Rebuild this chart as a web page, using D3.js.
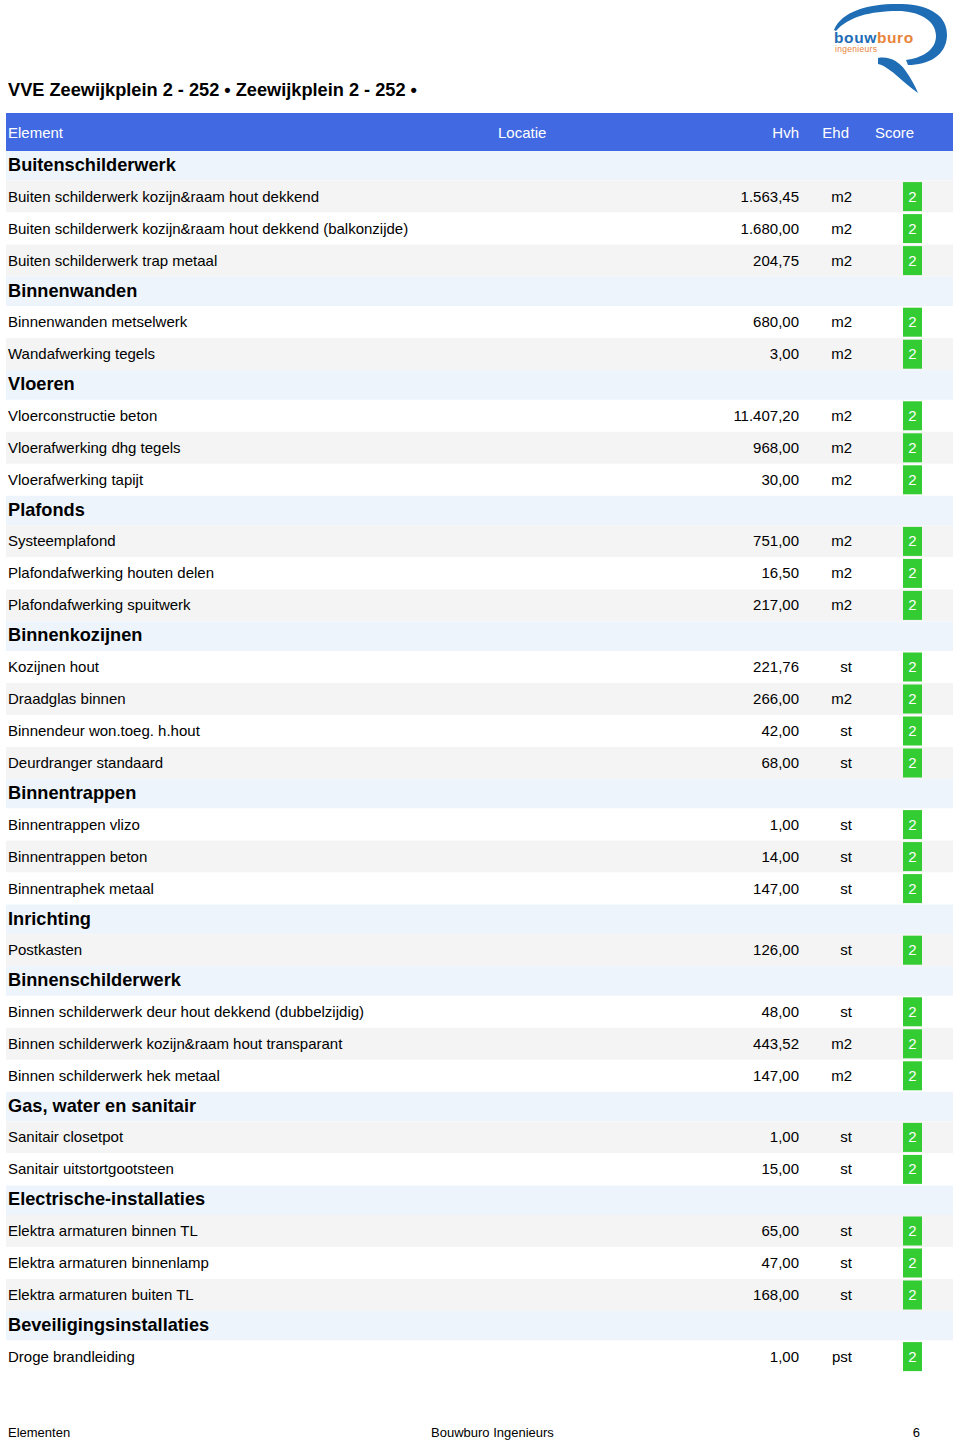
<!DOCTYPE html>
<html>
<head>
<meta charset="utf-8">
<script src="https://cdn.jsdelivr.net/npm/d3@7"></script>
<style>
  body { margin: 0; background: #fff; }
  svg { display: block; font-family: "Liberation Sans", Arial, sans-serif; }
</style>
</head>
<body>
<svg id="canvas"></svg>
<script>
let title = "VVE Zeewijkplein 2 - 252 • Zeewijkplein 2 - 252 •"
let columns = ["Element", "Locatie", "Hvh", "Ehd", "Score"]

let sections = [
  "Buitenschilderwerk", "Binnenwanden", "Vloeren", "Plafonds", "Binnenkozijnen",
  "Binnentrappen", "Inrichting", "Binnenschilderwerk", "Gas, water en sanitair",
  "Electrische-installaties", "Beveiligingsinstallaties"
]

// which section each item belongs to (index into sections)
let itemSection = [0, 0, 0, 1, 1, 2, 2, 2, 3, 3, 3, 4, 4, 4, 4, 5, 5, 5, 6, 7, 7, 7, 8, 8, 9, 9, 9, 10]

let itemNames = [
  "Buiten schilderwerk kozijn&raam hout dekkend",
  "Buiten schilderwerk kozijn&raam hout dekkend (balkonzijde)",
  "Buiten schilderwerk trap metaal",
  "Binnenwanden metselwerk",
  "Wandafwerking tegels",
  "Vloerconstructie beton",
  "Vloerafwerking dhg tegels",
  "Vloerafwerking tapijt",
  "Systeemplafond",
  "Plafondafwerking houten delen",
  "Plafondafwerking spuitwerk",
  "Kozijnen hout",
  "Draadglas binnen",
  "Binnendeur won.toeg. h.hout",
  "Deurdranger standaard",
  "Binnentrappen vlizo",
  "Binnentrappen beton",
  "Binnentraphek metaal",
  "Postkasten",
  "Binnen schilderwerk deur hout dekkend (dubbelzijdig)",
  "Binnen schilderwerk kozijn&raam hout transparant",
  "Binnen schilderwerk hek metaal",
  "Sanitair closetpot",
  "Sanitair uitstortgootsteen",
  "Elektra armaturen binnen TL",
  "Elektra armaturen binnenlamp",
  "Elektra armaturen buiten TL",
  "Droge brandleiding"
]

let itemQty = [1563.45, 1680, 204.75, 680, 3, 11407.2, 968, 30, 751, 16.5, 217, 221.76, 266, 42, 68,
  1, 14, 147, 126, 48, 443.52, 147, 1, 15, 65, 47, 168, 1]

let itemUnit = ["m2", "m2", "m2", "m2", "m2", "m2", "m2", "m2", "m2", "m2", "m2", "st", "m2", "st", "st",
  "st", "st", "st", "st", "st", "m2", "m2", "st", "st", "st", "st", "st", "pst"]

let itemScore = [2, 2, 2, 2, 2, 2, 2, 2, 2, 2, 2, 2, 2, 2, 2, 2, 2, 2, 2, 2, 2, 2, 2, 2, 2, 2, 2, 2]

let footer = ["Elementen", "Bouwburo Ingenieurs", "6"]

let width = 960
let height = 1440
let left = 6
let right = 953
let headTop = 113
let headH = 38
let sectionH = 29.6
let itemH = 32

let svg = d3.select("#canvas")
    .attr("width", width)
    .attr("height", height)

// dutch number format 1.563,45
let nl = d3.formatLocale({decimal: ",", thousands: ".", grouping: [3], currency: ["€", ""]})
let fmt = nl.format(",.2f")

// build rows: section header followed by its items (striping runs over all items)
let rows = []
let k = 0
sections.forEach((s, si) => {
  rows.push({type: "section", name: s})
  itemSection.forEach((sec, i) => {
    if (sec == si) {
      rows.push({type: "item", name: itemNames[i], qty: itemQty[i], unit: itemUnit[i], score: itemScore[i], alt: k % 2 == 0})
      k++
    }
  })
})
let y = headTop + headH
rows.forEach((r) => {
  r.h = r.type == "section" ? sectionH : itemH
  r.y = y
  y += r.h
})

let xCol = d3.scaleOrdinal()
    .domain(columns)
    .range([8, 498, 799, 852, 875])

let drawTitle = () => {
  svg.append("text")
    .attr("x", 8)
    .attr("y", 96)
    .attr("font-size", 18.2)
    .attr("font-weight", "bold")
    .attr("fill", "#000")
    .text(title)
}

let drawLogo = () => {
  let g = svg.append("g")
  g.append("path")
    .attr("fill", "#1f6db5")
    .attr("d", "M834,30 C842,10 872,3 902,4 C930,5 948,16 947,36 C946,56 928,65 908,65 L906,60 C922,58 936,50 936,36 C936,20 918,11 898,11 C870,11 848,17 836,31 Z")
  g.append("path")
    .attr("fill", "#1f6db5")
    .attr("d", "M878,58 C890,56 899,62 905,70 C911,78 915,86 918,93 C911,88 903,81 896,75 C889,69 883,65 878,64 Z")
  g.append("text")
    .attr("x", 834)
    .attr("y", 43)
    .attr("font-size", 15.5)
    .attr("font-weight", "bold")
    .attr("letter-spacing", 0.6)
    .selectAll("tspan")
    .data([["bouw", "#1f6db5"], ["buro", "#e8833a"]])
    .enter()
    .append("tspan")
    .attr("fill", (d) => d[1])
    .text((d) => d[0])
  g.append("text")
    .attr("x", 835)
    .attr("y", 52)
    .attr("font-size", 8.5)
    .attr("letter-spacing", 0.3)
    .attr("fill", "#e8833a")
    .text("ingenieurs")
}

let drawHeader = () => {
  svg.append("rect")
    .attr("x", left)
    .attr("y", headTop)
    .attr("width", right - left)
    .attr("height", headH)
    .attr("fill", "#4169e1")
  svg.selectAll(".colhead")
    .data(columns)
    .enter()
    .append("text")
    .attr("class", "colhead")
    .attr("x", (d) => d == "Ehd" ? 849 : xCol(d))
    .attr("y", headTop + 25)
    .attr("font-size", 15)
    .attr("fill", "#fff")
    .attr("text-anchor", (d) => (d == "Hvh" || d == "Ehd") ? "end" : "start")
    .text((d) => d)
}

let drawRows = () => {
  let g = svg.selectAll(".row")
    .data(rows)
    .enter()
    .append("g")
    .attr("class", "row")
    .attr("transform", (d) => "translate(0," + d.y + ")")

  g.append("rect")
    .attr("x", left)
    .attr("width", right - left)
    .attr("height", (d) => d.h)
    .attr("fill", (d) => d.type == "section" ? "#eef4fc" : (d.alt ? "#f4f4f4" : "#fff"))

  g.append("text")
    .attr("x", xCol("Element"))
    .attr("y", (d) => d.type == "section" ? 20 : 21)
    .attr("font-size", (d) => d.type == "section" ? 18.2 : 15)
    .attr("font-weight", (d) => d.type == "section" ? "bold" : "normal")
    .attr("fill", "#000")
    .text((d) => d.name)

  let items = g.filter((d) => d.type == "item")

  items.append("text")
    .attr("x", xCol("Hvh"))
    .attr("y", 21)
    .attr("font-size", 15)
    .attr("text-anchor", "end")
    .text((d) => fmt(d.qty))

  items.append("text")
    .attr("x", xCol("Ehd"))
    .attr("y", 21)
    .attr("font-size", 15)
    .attr("text-anchor", "end")
    .text((d) => d.unit)

  items.append("rect")
    .attr("x", 903)
    .attr("y", 1.5)
    .attr("width", 19)
    .attr("height", 29)
    .attr("fill", "#33cc33")

  items.append("text")
    .attr("x", 912.5)
    .attr("y", 21)
    .attr("font-size", 15)
    .attr("text-anchor", "middle")
    .attr("fill", "#fff")
    .text((d) => d.score)
}

let drawFooter = () => {
  svg.selectAll(".foot")
    .data(footer)
    .enter()
    .append("text")
    .attr("class", "foot")
    .attr("x", (d, i) => [8, 431, 920][i])
    .attr("text-anchor", (d, i) => i == 2 ? "end" : "start")
    .attr("y", 1437)
    .attr("font-size", 13)
    .attr("fill", "#000")
    .text((d) => d)
}

drawTitle()
drawLogo()
drawHeader()
drawRows()
drawFooter()
</script>
</body>
</html>
